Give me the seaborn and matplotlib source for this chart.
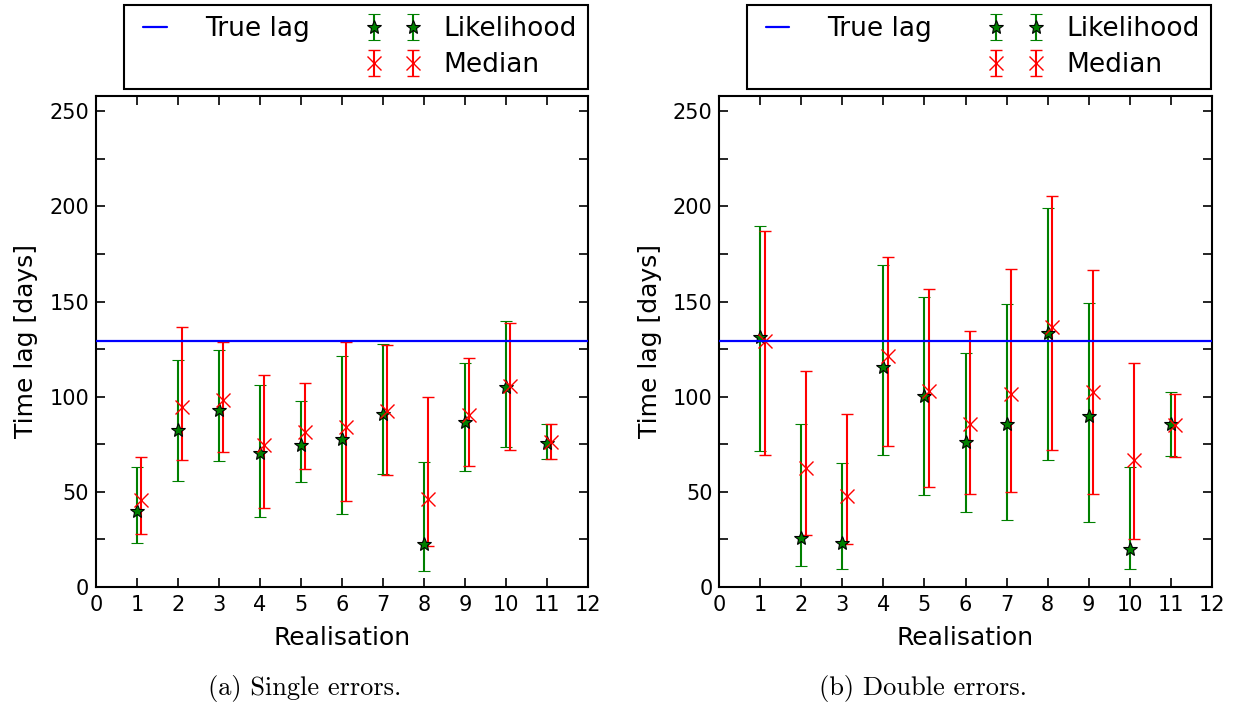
import numpy as np
import matplotlib
matplotlib.use("Agg")
import matplotlib.pyplot as plt
import seaborn as sns
from matplotlib.ticker import MultipleLocator
from matplotlib.lines import Line2D
from matplotlib.legend_handler import HandlerErrorbar
from matplotlib.container import ErrorbarContainer

# ---- data -------------------------------------------------------------
realisation = np.arange(1, 12)
true_lag = 129.0

# (a) single errors
single_like = [40.1, 82.4, 92.9, 70.2, 74.6, 77.7, 90.8, 22.6, 86.8, 105.0, 75.9]
single_like_lo = [23.1, 55.8, 66.3, 36.6, 55.1, 38.6, 59.6, 8.2, 60.9, 73.5, 67.0]
single_like_hi = [62.8, 119.3, 124.6, 106.4, 97.6, 121.3, 127.7, 65.6, 117.6, 140.0, 85.4]
single_med = [45.8, 94.7, 98.0, 74.6, 81.7, 84.2, 92.7, 46.4, 90.6, 105.7, 76.3]
single_med_lo = [27.8, 66.7, 70.7, 41.5, 62.0, 45.1, 59.0, 21.8, 63.5, 72.2, 67.4]
single_med_hi = [68.4, 136.8, 128.9, 111.6, 107.1, 128.8, 127.0, 99.8, 120.4, 138.8, 85.9]

# (b) double errors
double_like = [131.6, 25.5, 23.1, 115.7, 100.4, 76.4, 85.7, 133.5, 89.9, 20.1, 85.4]
double_like_lo = [71.7, 11.2, 9.6, 69.6, 48.5, 39.5, 35.3, 66.8, 34.1, 9.2, 68.9]
double_like_hi = [189.5, 85.6, 65.4, 169.2, 152.4, 122.9, 148.9, 199.3, 149.4, 62.8, 102.4]
double_med = [129.3, 62.3, 47.9, 121.4, 102.9, 85.6, 101.5, 136.7, 102.4, 66.8, 85.2]
double_med_lo = [69.5, 27.1, 22.6, 74.0, 52.5, 48.8, 50.0, 72.2, 48.8, 25.2, 68.4]
double_med_hi = [186.9, 113.7, 91.0, 173.6, 156.6, 134.7, 167.3, 205.4, 166.8, 117.8, 101.5]

captions = ["(a) Single errors.", "(b) Double errors."]

# ---- style ------------------------------------------------------------
sns.set_theme(style="ticks")
plt.rcParams.update({
    "font.family": ["DejaVu Sans"],
    "text.color": "black",
    "axes.labelcolor": "black",
    "axes.edgecolor": "black",
    "axes.linewidth": 1.5,
    "xtick.direction": "in",
    "ytick.direction": "in",
    "xtick.top": True,
    "ytick.right": True,
    "xtick.major.size": 6.5,
    "ytick.major.size": 6.5,
    "ytick.minor.size": 6.5,
    "xtick.major.width": 1.2,
    "ytick.major.width": 1.2,
    "ytick.minor.width": 1.2,
    "xtick.color": "black",
    "ytick.color": "black",
    "xtick.labelcolor": "black",
    "ytick.labelcolor": "black",
    "xtick.labelsize": 15,
    "ytick.labelsize": 15,
    "xtick.major.pad": 6,
    "ytick.major.pad": 5,
    "axes.labelsize": 18,
})

fig = plt.figure(figsize=(12.37, 7.11), dpi=100)
ax_l = fig.add_axes([96 / 1237, 124 / 711, 492 / 1237, 491 / 711])
ax_r = fig.add_axes([719.5 / 1237, 124 / 711, 492 / 1237, 491 / 711])

x = realisation.astype(float)
offset = 0.1


def panel(ax, like, like_lo, like_hi, med, med_lo, med_hi, legend_x):
    like = np.asarray(like)
    med = np.asarray(med)
    like_err = [like - np.asarray(like_lo), np.asarray(like_hi) - like]
    med_err = [med - np.asarray(med_lo), np.asarray(med_hi) - med]

    truth = ax.axhline(true_lag, color="blue", lw=1.6, label="True lag", zorder=4)
    eb_like = ax.errorbar(x, like, yerr=like_err, fmt="*", color="green",
                          ecolor="green", mfc="green", mec="black", mew=0.8,
                          ms=10.5, elinewidth=1.5, capsize=4.6, capthick=1.5,
                          label="Likelihood", zorder=3)
    eb_med = ax.errorbar(x + offset, med, yerr=med_err, fmt="x", color="red",
                         ecolor="red", mew=1.0, ms=9.5, elinewidth=1.5,
                         capsize=4.6, capthick=1.5, label="Median", zorder=3)

    ax.set_xlim(0, 12)
    ax.set_ylim(0, 2 * true_lag)
    ax.xaxis.set_major_locator(MultipleLocator(1))
    ax.yaxis.set_major_locator(MultipleLocator(50))
    ax.yaxis.set_minor_locator(MultipleLocator(25))
    ax.tick_params(axis="y", which="minor", direction="in", right=True)
    ax.set_xlabel("Realisation", labelpad=8)
    ax.set_ylabel("Time lag [days]", labelpad=8)
    ax.set_facecolor("white")

    blank = Line2D([], [], linestyle="none")
    leg = ax.legend([truth, blank, eb_like, eb_med],
                    ["True lag", "", "Likelihood", "Median"],
                    ncol=2, mode="expand", loc="lower left",
                    bbox_to_anchor=(legend_x, 1.014, 0.943, 0.175),
                    borderaxespad=0, fontsize=19, numpoints=2,
                    handlelength=1.5, handletextpad=1.15, labelspacing=0.38,
                    borderpad=0.42,
                    fancybox=False, framealpha=1, edgecolor="black",
                    handler_map={ErrorbarContainer: HandlerErrorbar(marker_pad=0)})
    leg.get_frame().set_linewidth(1.5)


panel(ax_l, single_like, single_like_lo, single_like_hi,
      single_med, single_med_lo, single_med_hi, 0.057)
panel(ax_r, double_like, double_like_lo, double_like_hi,
      double_med, double_med_lo, double_med_hi, 0.055)

# sub-captions centred on each half of the figure
for cx, cap in zip([0.25, 0.75], captions):
    fig.text(cx - 5 / 1237, 1 - 689 / 711, cap, ha="center", va="center",
             family=["cmr10", "DejaVu Serif"], fontsize=19)

fig.savefig("out.png", dpi=100, facecolor="white")
